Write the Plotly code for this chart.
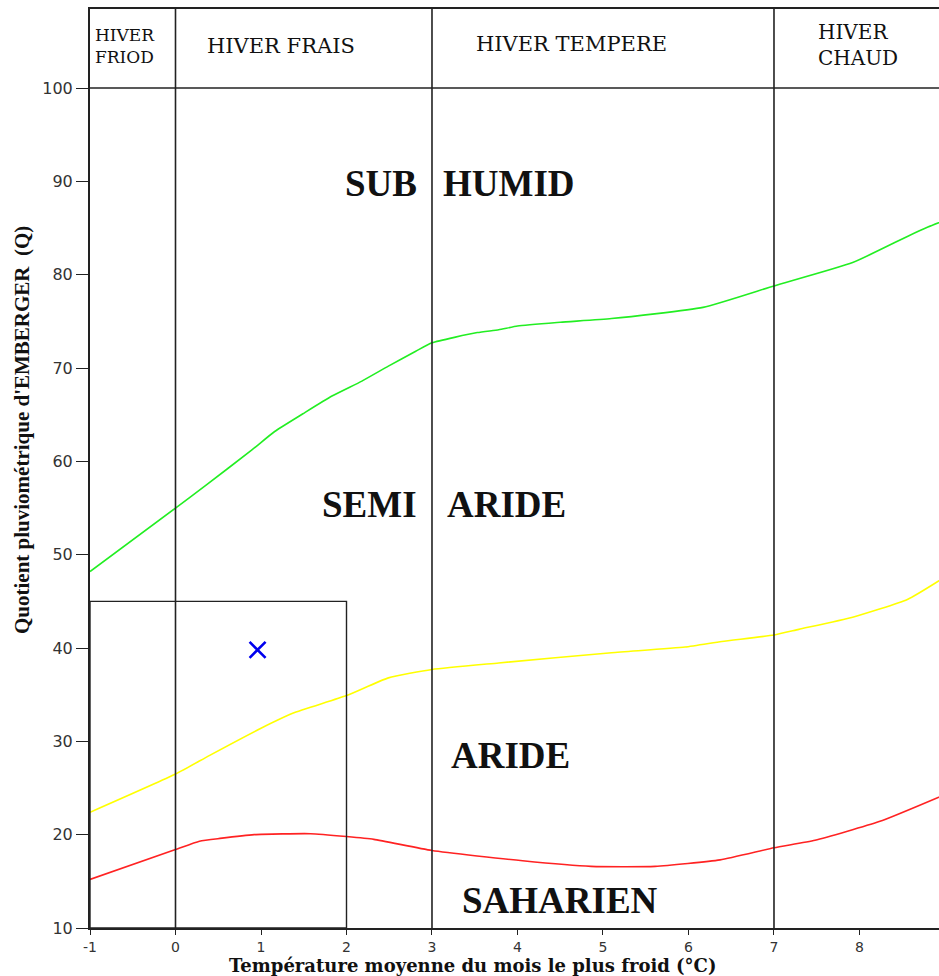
import plotly.graph_objects as go

# --- Emberger climagram: boundary curves (Q vs m, °C) ---
sub_humid_x = [-1, 0, 0.35, 0.89, 1.16, 1.49, 1.83, 2.18, 2.49, 2.81, 3.0, 3.53, 3.78, 4.0, 4.5, 5.1, 6.17, 7.0, 7.92, 8.56, 8.8, 9.05]
sub_humid_q = [48.2, 55.0, 57.4, 61.2, 63.2, 65.1, 67.0, 68.6, 70.2, 71.8, 72.7, 73.8, 74.1, 74.5, 74.9, 75.3, 76.5, 78.8, 81.3, 84.1, 85.1, 86.0]

semi_arid_x = [-1, 0, 0.4, 1.0, 1.37, 2.0, 2.49, 3.0, 3.78, 5.1, 5.96, 6.39, 7.0, 7.29, 7.92, 8.56, 9.05]
semi_arid_q = [22.4, 26.5, 28.5, 31.4, 33.0, 34.9, 36.8, 37.7, 38.4, 39.5, 40.1, 40.7, 41.4, 42.0, 43.3, 45.2, 47.9]

arid_x = [-1, 0, 0.28, 0.52, 0.92, 1.58, 2.0, 2.32, 3.0, 4.06, 4.86, 5.61, 6.37, 7.0, 7.48, 8.23, 9.05]
arid_q = [15.2, 18.4, 19.3, 19.6, 20.0, 20.1, 19.8, 19.5, 18.3, 17.2, 16.6, 16.6, 17.3, 18.6, 19.4, 21.4, 24.5]

# station
station_m = [0.96]
station_q = [39.8]

# winter-type boundaries (°C) and header labels
winter_bounds = [0, 3, 7]
winter_labels = ["HIVER<br>FRIOD", "HIVER FRAIS", "HIVER TEMPERE", "HIVER<br>CHAUD"]

# study box (m from -1 to 2, Q up to 45)
box_m = [-1, 2]
box_q = [10, 45]

x_ticks = list(range(-1, 9))
y_ticks = list(range(10, 101, 10))

X_MIN, X_MAX = -1, 8.93
Y_MIN, Y_MAX = 10, 108.47
Q_HEADER = 100

AX = "#222222"
SERIF = "Liberation Serif, Times New Roman, serif"
HEAD = "DejaVu Serif, serif"

fig = go.Figure()

for xs, ys, col in [
    (sub_humid_x, sub_humid_q, "#22ee22"),
    (semi_arid_x, semi_arid_q, "#ffff00"),
    (arid_x, arid_q, "#ff2222"),
]:
    fig.add_trace(go.Scatter(x=xs, y=ys, mode="lines",
                             line=dict(color=col, width=1.6, shape="spline", smoothing=0.5),
                             hoverinfo="skip", showlegend=False))

fig.add_trace(go.Scatter(x=station_m, y=station_q, mode="markers",
                         marker=dict(symbol="x-thin", size=16, line=dict(color="#0000ee", width=2.6)),
                         showlegend=False))

shapes = []
for b in winter_bounds:
    shapes.append(dict(type="line", xref="x", yref="paper", x0=b, x1=b, y0=0, y1=1,
                       line=dict(color=AX, width=1.6)))
shapes.append(dict(type="line", xref="paper", yref="y", x0=0, x1=1, y0=Q_HEADER, y1=Q_HEADER,
                   line=dict(color=AX, width=1.6)))
shapes.append(dict(type="rect", xref="x", yref="y", x0=box_m[0], x1=box_m[1], y0=box_q[0], y1=box_q[1],
                   line=dict(color=AX, width=1.4)))

ann = []
# header labels
hdr_y = 104.5
ann.append(dict(x=-0.965, y=hdr_y, text=winter_labels[0], xanchor="left", align="left",
                font=dict(family=HEAD, size=17, color="#111")))
ann.append(dict(x=1.234, y=hdr_y, text=winter_labels[1], xanchor="center",
                font=dict(family=HEAD, size=21, color="#111")))
ann.append(dict(x=4.626, y=104.7, text=winter_labels[2], xanchor="center",
                font=dict(family=HEAD, size=21, color="#111")))
ann.append(dict(x=7.49, y=104.6, text=winter_labels[3], xanchor="left", align="left",
                font=dict(family=HEAD, size=20, color="#111")))

zone_font = dict(family=SERIF, size=37, color="#111")
ann += [
    dict(x=2.85, y=89.8, text="<b>SUB</b>", xanchor="right", font=zone_font),
    dict(x=3.10, y=89.8, text="<b>HUMID</b>", xanchor="left", font=zone_font),
    dict(x=2.85, y=55.4, text="<b>SEMI</b>", xanchor="right", font=zone_font),
    dict(x=3.15, y=55.4, text="<b>ARIDE</b>", xanchor="left", font=zone_font),
    dict(x=3.92, y=28.5, text="<b>ARIDE</b>", xanchor="center", font=zone_font),
    dict(x=4.50, y=13.0, text="<b>SAHARIEN</b>", xanchor="center", font=zone_font),
]
for a in ann:
    a.setdefault("xref", "x")
    a.setdefault("yref", "y")
    a["showarrow"] = False
    a.setdefault("yanchor", "middle")

# axis titles
ann.append(dict(xref="paper", yref="paper", x=(22 - 90) / 849, y=(928 - 430) / 919,
                text="<b>Quotient pluviométrique d'EMBERGER  (Q)</b>", textangle=-90,
                showarrow=False, xanchor="center", yanchor="middle",
                font=dict(family=SERIF, size=21, color="#111")))
ann.append(dict(xref="paper", yref="paper", x=(472 - 90) / 849, y=(928 - 965) / 919,
                text="<b>Température moyenne du mois le plus froid (°C)</b>",
                showarrow=False, xanchor="center", yanchor="middle",
                font=dict(family="DejaVu Serif, serif", size=18, color="#111")))

fig.update_layout(
    width=939, height=976,
    margin=dict(l=90, r=0, t=9, b=48),
    paper_bgcolor="white", plot_bgcolor="white",
    shapes=shapes, annotations=ann, showlegend=False,
    xaxis=dict(range=[X_MIN, X_MAX], tickvals=x_ticks, ticktext=[str(v) for v in x_ticks],
               ticks="outside", ticklen=5, tickwidth=1.4, tickcolor=AX,
               showline=True, linecolor=AX, linewidth=2, mirror=True,
               showgrid=False, zeroline=False,
               tickfont=dict(family="DejaVu Sans, sans-serif", size=14, color="#333")),
    yaxis=dict(range=[Y_MIN, Y_MAX], tickvals=y_ticks,
               ticks="outside", ticklen=12, tickwidth=1.4, tickcolor=AX,
               showline=True, linecolor=AX, linewidth=2,
               showgrid=False, zeroline=False,
               tickfont=dict(family="DejaVu Sans, sans-serif", size=16, color="#333")),
)

fig.write_html("out.html")
